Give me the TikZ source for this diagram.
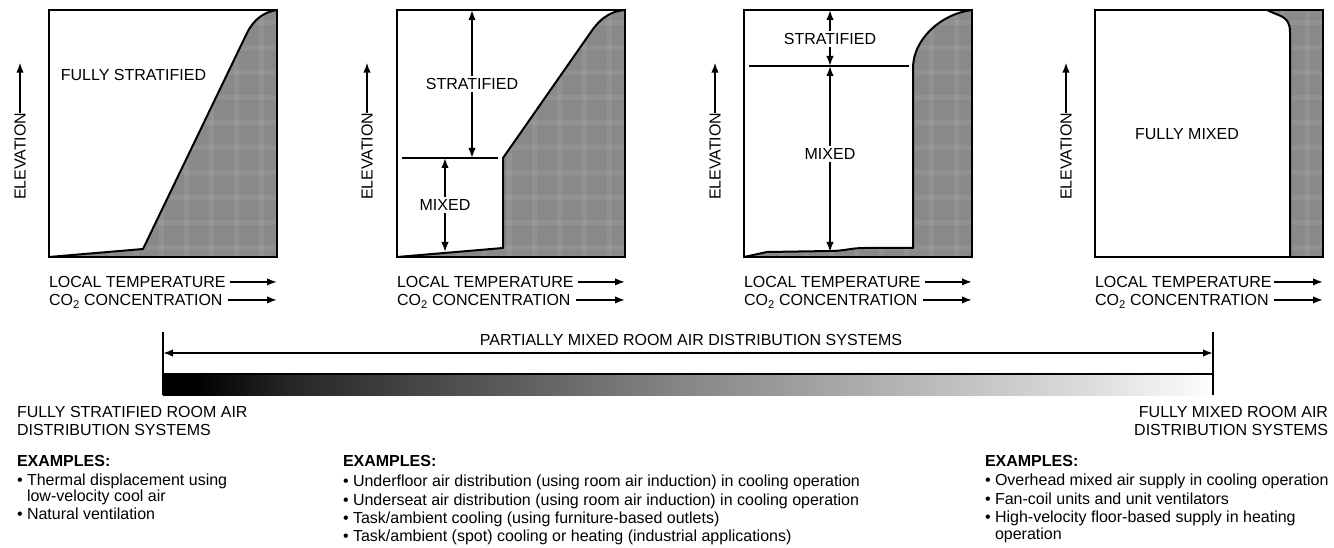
\documentclass[tikz,border=0pt]{standalone}
\usepackage{fontspec}
\setmainfont{Liberation Sans}
\usetikzlibrary{arrows.meta}
\definecolor{fillgray}{RGB}{137,137,137}
\pgfdeclarehorizontalshading{barshade}{100bp}{color(0bp)=(black); color(25bp)=(black); color(26.5bp)=(black); color(31bp)=(black!85); color(50bp)=(black!47); color(70bp)=(black!12); color(75bp)=(white); color(100bp)=(white)}
\tikzset{
  lbl/.style={font=\fontsize{16}{18}\selectfont, inner sep=0pt, outer sep=0pt},
  caplbl/.style={lbl, text depth=0pt},
  boldlbl/.style={lbl, font=\fontsize{16}{18}\selectfont\bfseries},
  panel/.style={draw, line width=2.4pt, minimum width=228pt, minimum height=247pt, inner sep=0pt, outer sep=0pt},
  edge/.style={line width=2pt, line join=round, line cap=round},
  thinline/.style={line width=1.7pt},
  arr/.style={line width=1.8pt, -{Latex[length=10pt,width=7.5pt]}},
  darr/.style={line width=1.8pt, {Latex[length=10pt,width=7.5pt]}-{Latex[length=10pt,width=7.5pt]}},
  plaidband/.style={fill=white, opacity=0.07},
  whitelbl/.style={caplbl, fill=white, inner sep=2pt}
}
\newcommand\myplaid[2]{%
  \fill[fillgray] (#1,10) rectangle (#2,257);
  \foreach \k in {0,...,9} {\fill[plaidband] (#1,{20+25*\k}) rectangle (#2,{25+25*\k});}
  \foreach \k in {0,...,9} {\fill[plaidband] ({#1+10+25*\k},10) rectangle ({#1+15+25*\k},257);}
}
\begin{document}
\begin{tikzpicture}[x=1pt,y=-1pt]
\useasboundingbox (0,0) rectangle (1334,548);
\fill[white] (0,0) rectangle (1334,548);

% ---------- panel 1 ----------
\begin{scope}
\clip (49,257) -- (143,249) -- (247,33) .. controls (254,19) and (264,12) .. (277,10) -- (277,257) -- cycle;
\myplaid{49}{277}
\end{scope}
\draw[edge] (49,257) -- (143,249) -- (247,33) .. controls (254,19) and (264,12) .. (277,10);
\node[panel, anchor=north west] (b1) at (49,10) {};
\node[caplbl] (fs) at (133.5,75) {FULLY STRATIFIED};
\node[caplbl, rotate=90, anchor=west] (e1) at (20,200) {ELEVATION};
\draw[arr] (e1.east) -- ++(0,-50);
\node[caplbl, anchor=base west] (t1) at (49,287.5) {LOCAL TEMPERATURE};
\draw[arr] ([xshift=4pt]t1.east) -- (t1.east -| b1.east);
\node[caplbl, anchor=base west] (c1) at (49,305.5) {CO\textsubscript{2} CONCENTRATION};
\draw[arr] ([xshift=5pt]c1.east) -- (c1.east -| b1.east);

% ---------- panel 2 ----------
\begin{scope}
\clip (397,257) -- (503,248) -- (503,158) -- (593,29) .. controls (602,17) and (612,11) .. (625,10) -- (625,257) -- cycle;
\myplaid{397}{625}
\end{scope}
\draw[edge] (397,257) -- (503,248) -- (503,158) -- (593,29) .. controls (602,17) and (612,11) .. (625,10);
\node[panel, anchor=north west] (b2) at (397,10) {};
\coordinate (d2a) at (402,158);
\coordinate (d2b) at (498,158);
\coordinate (f2) at (445,252);
\draw[thinline] (d2a) -- (d2b);
\coordinate (s2x) at (472,84);
\coordinate (m2x) at (445,205);
\draw[darr] (b2.north -| s2x) -- (d2a -| s2x);
\draw[darr] (d2a -| m2x) -- (f2);
\node[whitelbl] (s2) at (s2x) {STRATIFIED};
\node[whitelbl] (m2) at (m2x) {MIXED};
\node[caplbl, rotate=90, anchor=west] (e2) at (367,200) {ELEVATION};
\draw[arr] (e2.east) -- ++(0,-50);
\node[caplbl, anchor=base west] (t2) at (397,287.5) {LOCAL TEMPERATURE};
\draw[arr] ([xshift=4pt]t2.east) -- (t2.east -| b2.east);
\node[caplbl, anchor=base west] (c2) at (397,305.5) {CO\textsubscript{2} CONCENTRATION};
\draw[arr] ([xshift=5pt]c2.east) -- (c2.east -| b2.east);

% ---------- panel 3 ----------
\begin{scope}
\clip (744,257) -- (767,252) -- (830,251) .. controls (845,251) and (850,248) .. (865,248) -- (913,248) -- (913,68) .. controls (913,40) and (940,14) .. (972,10) -- (972,257) -- cycle;
\myplaid{744}{972}
\end{scope}
\draw[edge] (744,257) -- (767,252) -- (830,251) .. controls (845,251) and (850,248) .. (865,248) -- (913,248) -- (913,68) .. controls (913,40) and (940,14) .. (972,10);
\node[panel, anchor=north west] (b3) at (744,10) {};
\coordinate (d3a) at (749,66);
\coordinate (d3b) at (909,66);
\coordinate (f3) at (830,252);
\draw[thinline] (d3a) -- (d3b);
\coordinate (s3x) at (830,39);
\coordinate (m3x) at (830,154);
\draw[darr] (b3.north -| s3x) -- (d3a -| s3x);
\draw[darr] (d3a -| m3x) -- (f3);
\node[whitelbl] (s3) at (s3x) {STRATIFIED};
\node[whitelbl] (m3) at (m3x) {MIXED};
\node[caplbl, rotate=90, anchor=west] (e3) at (715,200) {ELEVATION};
\draw[arr] (e3.east) -- ++(0,-50);
\node[caplbl, anchor=base west] (t3) at (744,287.5) {LOCAL TEMPERATURE};
\draw[arr] ([xshift=4pt]t3.east) -- (t3.east -| b3.east);
\node[caplbl, anchor=base west] (c3) at (744,305.5) {CO\textsubscript{2} CONCENTRATION};
\draw[arr] ([xshift=5pt]c3.east) -- (c3.east -| b3.east);

% ---------- panel 4 ----------
\begin{scope}
\clip (1290,257) -- (1290,32) .. controls (1290,20) and (1284,17) .. (1276,14) .. controls (1271,12) and (1269,11) .. (1267,10) -- (1323,10) -- (1323,257) -- cycle;
\myplaid{1095}{1323}
\end{scope}
\draw[edge] (1290,257) -- (1290,32) .. controls (1290,20) and (1284,17) .. (1276,14) .. controls (1271,12) and (1269,11) .. (1267,10);
\node[panel, anchor=north west] (b4) at (1095,10) {};
\node[caplbl] (fm) at (1187,134) {FULLY MIXED};
\node[caplbl, rotate=90, anchor=west] (e4) at (1066,200) {ELEVATION};
\draw[arr] (e4.east) -- ++(0,-50);
\node[caplbl, anchor=base west] (t4) at (1095,287.5) {LOCAL TEMPERATURE};
\draw[arr] ([xshift=2pt]t4.east) -- (t4.east -| b4.east);
\node[caplbl, anchor=base west] (c4) at (1095,305.5) {CO\textsubscript{2} CONCENTRATION};
\draw[arr] ([xshift=5pt]c4.east) -- (c4.east -| b4.east);

% ---------- range bar ----------
\coordinate (lt) at (163,332);
\coordinate (lb) at (163,395);
\coordinate (rt) at (1213,332);
\coordinate (rb) at (1213,395);
\coordinate (la) at (163,353);
\coordinate (ra) at (1213,353);
\shade[shading=barshade] (163,374) rectangle (1213,395);
\draw[thinline] (163,374) -- (1213,374);
\draw[thinline] (lt) -- (lb);
\draw[thinline] (rt) -- (rb);
\draw[darr] (la) -- (ra);
\node[caplbl] (pm) at (691,340) {PARTIALLY MIXED ROOM AIR DISTRIBUTION SYSTEMS};

% ---------- left text ----------
\node[lbl, anchor=base west] (fs1) at (17,417.5) {FULLY STRATIFIED ROOM AIR};
\node[lbl, anchor=base west] (fs2) at (17,435.5) {DISTRIBUTION SYSTEMS};
\node[boldlbl, anchor=base west] (ex1) at (17,466.5) {EXAMPLES:};
\node[lbl, anchor=base west] (l11) at (17,485.5) {• Thermal displacement using};
\node[lbl, anchor=base west] (l12) at (17,501.5) {\phantom{• }low-velocity cool air};
\node[lbl, anchor=base west] (l13) at (17,519.5) {• Natural ventilation};

% ---------- middle text ----------
\node[boldlbl, anchor=base west] (ex2) at (343,466.5) {EXAMPLES:};
\node[lbl, anchor=base west] (l21) at (343,486.5) {• Underfloor air distribution (using room air induction) in cooling operation};
\node[lbl, anchor=base west] (l22) at (343,505.5) {• Underseat air distribution (using room air induction) in cooling operation};
\node[lbl, anchor=base west] (l23) at (343,523.5) {• Task/ambient cooling (using furniture-based outlets)};
\node[lbl, anchor=base west] (l24) at (343,541.5) {• Task/ambient (spot) cooling or heating (industrial applications)};

% ---------- right text ----------
\node[lbl, anchor=base east] (fm1) at (1328,417.5) {FULLY MIXED ROOM AIR};
\node[lbl, anchor=base east] (fm2) at (1328,435.5) {DISTRIBUTION SYSTEMS};
\node[boldlbl, anchor=base west] (ex3) at (985,466.5) {EXAMPLES:};
\node[lbl, anchor=base west] (l31) at (985,485.5) {• Overhead mixed air supply in cooling operation};
\node[lbl, anchor=base west] (l32) at (985,504.5) {• Fan-coil units and unit ventilators};
\node[lbl, anchor=base west] (l33) at (985,522.5) {• High-velocity floor-based supply in heating};
\node[lbl, anchor=base west] (l34) at (985,539.5) {\phantom{• }operation};
\end{tikzpicture}
\end{document}
